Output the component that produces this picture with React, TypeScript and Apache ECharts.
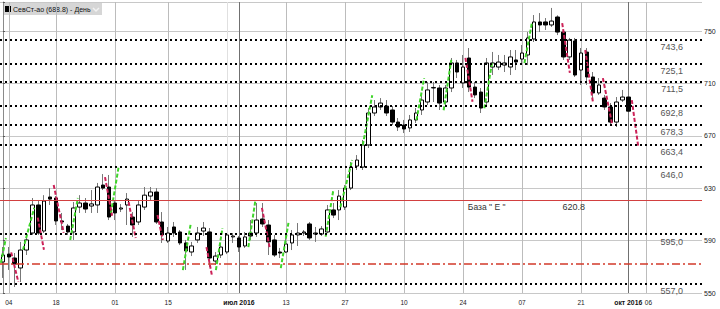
import React, { useEffect, useRef } from 'react';
import * as echarts from 'echarts';

// Trading-day categories as laid out on the reference chart
const aprDays = ['29'];
const mayDays = ['04','05','10','11','12','13','16','17','18','19','20','23','24','25','26','27','30','31'];
const junDays = ['01','02','03','06','07','08','09','10','14','15','16','17','20','21','22','23','24','27','28','29','30'];
const julDays = ['01','04','05','06','07','08','11','12','13','14','15','18','19','20','21','22','25','26','27','28','29'];
const augDays = ['01','02','03','04','05','08','09','10','11','12','15','16','17','18','19','22','23','24','25','26','29','30','31'];
const sepDays = ['01','02','05','06','07','08','09','12','13','14','15','16','19','20','21','22','23','26','27','28','29','30'];
const octDays = ['03','04','05','06','07','10','11','12','13','14','17','18','19'];
const dates: string[] = [
  ...aprDays.map(d => `2016-04-${d}`),
  ...mayDays.map(d => `2016-05-${d}`),
  ...junDays.map(d => `2016-06-${d}`),
  ...julDays.map(d => `2016-07-${d}`),
  ...augDays.map(d => `2016-08-${d}`),
  ...sepDays.map(d => `2016-09-${d}`),
  ...octDays.map(d => `2016-10-${d}`),
];

const tickDates = ['2016-05-04','2016-05-18','2016-06-01','2016-06-15','2016-07-01','2016-07-13','2016-07-27','2016-08-10','2016-08-24','2016-09-07','2016-09-21','2016-10-03'];
const tickLabels = ['04','18','01','15','июл 2016','13','27','10','24','07','21','окт 2016'];
const futureTickDate = '2016-10-06';
const futureTickLabel = '06';
const monthTicks = ['2016-07-01','2016-10-03'];
const faintGrid = ['2016-06-29'];

const opens = [573.7,579.7,576.7,569.1,582.8,595.8,617.2,597.3,623.3,622.5,605.0,601.1,596.6,615.6,618.7,616.4,617.2,632.4,630.9,618.7,614.1,617.2,608.0,604.2,615.6,624.0,627.1,604.2,589.7,600.4,596.6,588.2,581.3,590.5,597.3,596.6,574.4,579.0,581.3,592.8,592.0,585.9,595.8,595.8,606.5,601.9,590.5,581.3,581.3,588.2,594.3,595.8,602.7,595.0,595.0,596.6,613.4,613.4,615.6,630.1,646.9,646.1,663.0,687.4,692.0,692.7,689.7,680.5,678.2,676.0,682.1,689.7,695.8,706.5,706.5,695.8,706.5,725.6,710.3,729.4,707.2,703.4,695.8,722.5,722.5,724.0,722.5,727.9,728.6,731.7,743.9,756.9,756.9,754.6,760.7,749.2,730.2,742.4,720.2,733.9,714.9,702.7,698.8,692.0,680.5,697.3,699.6];
const closes = [579.0,577.5,572.1,582.8,590.5,617.2,595.8,620.2,621.7,605.0,604.2,596.6,614.9,618.7,614.1,618.0,630.9,630.1,608.0,611.1,614.9,621.7,601.9,617.2,624.7,627.1,604.2,594.3,595.8,595.8,588.2,582.1,585.9,595.8,599.6,576.7,578.2,585.1,594.3,593.5,585.1,592.8,593.5,605.7,602.7,589.0,579.0,580.5,587.4,594.3,595.8,596.6,592.0,595.8,598.9,613.4,609.5,624.0,630.1,646.1,651.5,663.0,687.4,692.0,695.0,687.4,680.5,676.7,675.2,682.1,687.4,697.3,705.0,706.9,695.0,706.5,725.6,718.7,722.5,707.2,701.2,691.2,725.6,725.6,726.3,725.6,730.2,726.3,733.2,744.7,756.9,754.6,754.6,757.6,749.2,730.2,743.1,716.4,733.2,714.9,702.7,708.8,692.0,680.5,695.8,699.6,688.8];
const lows = [561.5,567.6,554.6,558.4,579.0,594.3,594.3,595.8,617.2,601.9,598.1,594.3,590.5,611.1,611.1,611.1,611.1,628.6,605.7,605.7,611.8,601.9,592.8,601.9,613.4,621.0,602.7,588.2,588.2,592.8,586.6,567.6,578.2,588.2,593.5,569.8,571.4,576.7,579.7,588.2,581.3,584.4,590.5,592.8,600.4,579.0,577.5,576.7,580.5,582.8,585.9,593.5,590.5,589.0,593.5,595.8,607.2,605.7,613.4,628.6,643.9,643.9,660.7,685.1,689.7,685.1,678.2,673.7,672.1,672.9,679.8,685.9,693.5,695.8,689.7,693.5,703.4,714.1,706.5,703.4,698.8,687.4,693.5,716.4,720.2,718.7,716.4,720.2,724.0,724.0,741.6,749.2,750.8,753.1,746.9,727.9,727.9,714.9,708.8,708.8,697.3,701.2,689.7,678.2,676.7,695.8,683.6];
const highs = [585.1,585.1,580.5,589.0,594.3,622.5,621.0,624.7,630.1,624.0,611.1,602.7,619.5,624.7,622.5,628.6,634.0,640.8,640.1,620.2,617.9,626.3,611.8,621.0,630.9,630.9,630.1,611.8,600.4,604.2,598.1,590.5,589.0,600.4,604.2,599.6,581.3,588.2,595.8,595.8,593.5,596.6,605.7,618.7,618.7,605.7,594.3,584.4,594.3,598.1,603.4,598.1,604.2,600.4,601.1,617.2,618.7,628.6,632.4,650.0,655.3,666.8,691.2,697.3,698.8,697.3,692.7,683.6,682.1,685.9,691.2,700.4,711.1,711.1,708.8,708.8,729.4,727.9,731.7,737.0,711.1,706.5,729.4,734.0,731.7,731.7,735.5,735.5,739.3,749.2,762.2,763.7,759.9,767.6,762.0,750.8,744.7,744.7,737.0,737.0,718.7,714.1,701.2,695.0,699.6,705.0,705.0];

const levels = [743.6, 725.1, 711.5, 692.8, 678.3, 663.4, 646.0, 595.0, 557.0];
const baseLevel = 620.8;
const baseName = 'База " Е "';
const dashLevel = 572.4;
const lastPrice = 688.8;

// [fromIndex, fromValue, toIndex, toValue]
const greenSegs = [
  [-0.35, 573, 0.5, 592], [3.4, 583, 5.3, 615], [11.4, 590.5, 12.7, 622.5], [18.3, 611, 19.6, 646],
  [30.5, 567.5, 31.8, 602], [36.1, 567.5, 37.2, 599.5], [41.6, 585, 42.8, 621], [47.1, 569, 48.4, 603.5],
  [54.7, 593, 56.0, 628.5], [57.2, 615.5, 59.2, 651.5], [61.0, 663, 62.6, 701], [70.1, 682, 71.4, 714],
  [74.7, 689.5, 76.0, 728], [81.6, 691, 82.9, 725.5], [88.4, 725.5, 89.7, 757],
];
const redSegs = [
  [1.4, 581, 2.6, 558.5], [5.9, 607.5, 6.95, 583], [8.6, 632.5, 10.3, 596], [17.3, 638.5, 18.5, 609],
  [21.3, 619.5, 22.5, 592], [26.2, 609.5, 27.1, 590.5], [34.5, 585, 35.4, 564], [43.9, 615, 45.2, 585],
  [78.4, 729.5, 79.6, 696], [94.8, 756, 96.1, 718], [98.7, 735.5, 100.0, 696], [101.7, 714, 103.3, 678],
  [106.6, 697.3, 107.7, 661.5],
];

const FONT = 'Liberation Sans';

export default function App() {
  const ref = useRef<HTMLDivElement>(null);
  useEffect(() => {
    const chart = echarts.init(ref.current!, undefined, { renderer: 'svg' });
    const candleData = opens.map((o, i) => [o, closes[i], lows[i], highs[i]]);
    const bodyData = opens.map((o, i) => [o, closes[i], Math.min(o, closes[i]), Math.max(o, closes[i])]);

    const vGrid: any[] = [...tickDates, ...faintGrid].map(d => ({
      xAxis: d,
      lineStyle: {
        color: monthTicks.includes(d) ? '#707070' : faintGrid.includes(d) ? '#e0e0e0' : '#bcbcbc',
        width: 1,
        type: 'solid',
      },
      label: { show: false },
    }));
    vGrid.push({
      xAxis: futureTickDate,
      lineStyle: { color: '#bcbcbc', width: 1, type: 'solid' },
      label: {
        show: true,
        position: 'start',
        formatter: `{r|${futureTickLabel}}`,
        distance: 6,
        fontSize: 6.5,
        color: '#222',
        fontFamily: FONT,
        rich: { r: { fontSize: 6.5, color: '#222', fontFamily: FONT, padding: [0, 0, 0, 5] } },
      },
    });

    const levelItems: any[] = levels.map(v => ({
      yAxis: v,
      lineStyle: { color: '#000', width: 2, type: [2, 3] },
      label: {
        show: true,
        formatter: v.toFixed(1).replace('.', ','),
        position: 'insideEndBottom',
        distance: [19, 3],
        color: '#555',
        fontSize: 9,
        fontFamily: FONT,
      },
    }));
    levelItems.push({
      yAxis: baseLevel,
      lineStyle: { color: '#d24040', width: 1, type: 'solid' },
      label: {
        show: true,
        formatter: `{n|${baseName}}{g| }{v|${baseLevel.toFixed(1)}}`,
        position: 'insideEndBottom',
        distance: [117, 2],
        color: '#333',
        fontSize: 9,
        fontFamily: FONT,
        rich: {
          n: { fontSize: 8.5, color: '#333', fontFamily: FONT },
          g: { width: 57, fontSize: 9 },
          v: { fontSize: 9, color: '#333', fontFamily: FONT },
        },
      },
    });
    levelItems.push({
      yAxis: dashLevel,
      lineStyle: { color: '#d23a2a', width: 1.5, type: [8, 3, 2, 3] },
      label: { show: false },
    });
    levelItems.push({
      yAxis: lastPrice,
      lineStyle: { opacity: 0 },
      label: {
        show: true, formatter: lastPrice.toFixed(1).replace('.', ','), position: 'end', distance: 1,
        backgroundColor: '#f08a7c', color: '#ffffff', fontSize: 8, padding: [1, 2], fontFamily: FONT,
      },
    });

    const option: any = {
      animation: false,
      textStyle: { fontFamily: FONT },
      grid: { left: -3.4, right: 18, top: 2, bottom: 16, containLabel: false },
      xAxis: [
        {
          type: 'category',
          data: dates,
          boundaryGap: true,
          axisLine: { show: false },
          axisTick: { show: false },
          splitLine: { show: false },
          axisLabel: {
            interval: (_i: number, v: string) => tickDates.includes(v),
            formatter: (v: string) => {
              const k = tickDates.indexOf(v);
              const t = k >= 0 ? tickLabels[k] : '';
              return monthTicks.includes(v) ? `{b|${t}}` : t;
            },
            hideOverlap: false,
            showMinLabel: true,
            showMaxLabel: true,
            fontSize: 6.5,
            color: '#222',
            margin: 6,
            rich: { b: { fontWeight: 'bold', fontSize: 6.8, color: '#111', fontFamily: FONT } },
          },
        },
        {
          type: 'value',
          min: -0.5,
          max: dates.length - 0.5,
          show: false,
          splitLine: { show: false },
        },
      ],
      yAxis: {
        type: 'value',
        position: 'right',
        min: 550,
        max: 772.14,
        interval: 40,
        axisLine: { show: true, lineStyle: { color: '#8a8a8a' } },
        axisTick: { show: true, length: 2, lineStyle: { color: '#555' } },
        axisLabel: {
          fontSize: 7,
          color: '#222',
          margin: 2,
          formatter: (v: number) => ((Math.round(v) - 550) % 40 === 0 && Math.abs(v - Math.round(v)) < 1e-6 ? String(v) : ''),
        },
        splitLine: { show: true, lineStyle: { color: '#c8c8c8', width: 1 } },
      },
      series: [
        {
          type: 'candlestick',
          name: 'wick',
          data: candleData,
          barWidth: 0.1,
          z: 2,
          silent: true,
          itemStyle: { color: '#777', color0: '#777', borderColor: '#777', borderColor0: '#777', borderWidth: 1 },
          markLine: {
            silent: true,
            z: 1,
            symbol: ['none', 'none'],
            data: vGrid,
          },
        },
        {
          type: 'candlestick',
          name: 'body',
          data: bodyData,
          barWidth: 4,
          z: 3,
          silent: true,
          itemStyle: { color: '#ffffff', color0: '#000000', borderColor: '#000000', borderColor0: '#000000', borderWidth: 1 },
          markLine: {
            silent: true,
            symbol: ['none', 'none'],
            data: levelItems,
          },
        },
        {
          type: 'lines',
          coordinateSystem: 'cartesian2d',
          xAxisIndex: 1,
          yAxisIndex: 0,
          silent: true,
          z: 4,
          lineStyle: { color: '#3fd52a', width: 2, type: [4, 2], opacity: 1 },
          data: greenSegs.map(s => ({ coords: [[s[0], s[1]], [s[2], s[3]]] })),
        },
        {
          type: 'lines',
          coordinateSystem: 'cartesian2d',
          xAxisIndex: 1,
          yAxisIndex: 0,
          silent: true,
          z: 4,
          lineStyle: { color: '#cc2258', width: 2, type: [4, 2], opacity: 1 },
          data: redSegs.map(s => ({ coords: [[s[0], s[1]], [s[2], s[3]]] })),
        },
      ],
      graphic: [
        {
          type: 'group',
          left: 3,
          top: 3,
          silent: true,
          children: [
            { type: 'rect', shape: { x: 0, y: 0, width: 99, height: 12 }, style: { fill: '#d6d6d6' } },
            { type: 'rect', shape: { x: 2, y: 3, width: 6, height: 6 }, style: { fill: '#000' } },
            {
              type: 'text', x: 10, y: 6.5,
              style: { text: `СевСт-ао (${lastPrice.toFixed(1)}) - День`, fontSize: 7, fill: '#111', verticalAlign: 'middle', fontFamily: FONT },
            },
            { type: 'polyline', shape: { points: [[90, 5], [93, 8], [96, 5]] }, style: { stroke: '#f2f2f2', lineWidth: 1.5, fill: null } },
          ],
        },
      ],
    };
    chart.setOption(option);
    return () => chart.dispose();
  }, []);
  return <div ref={ref} style={{ position: 'absolute', left: 0, top: 0, width: 720, height: 309 }} />;
}
